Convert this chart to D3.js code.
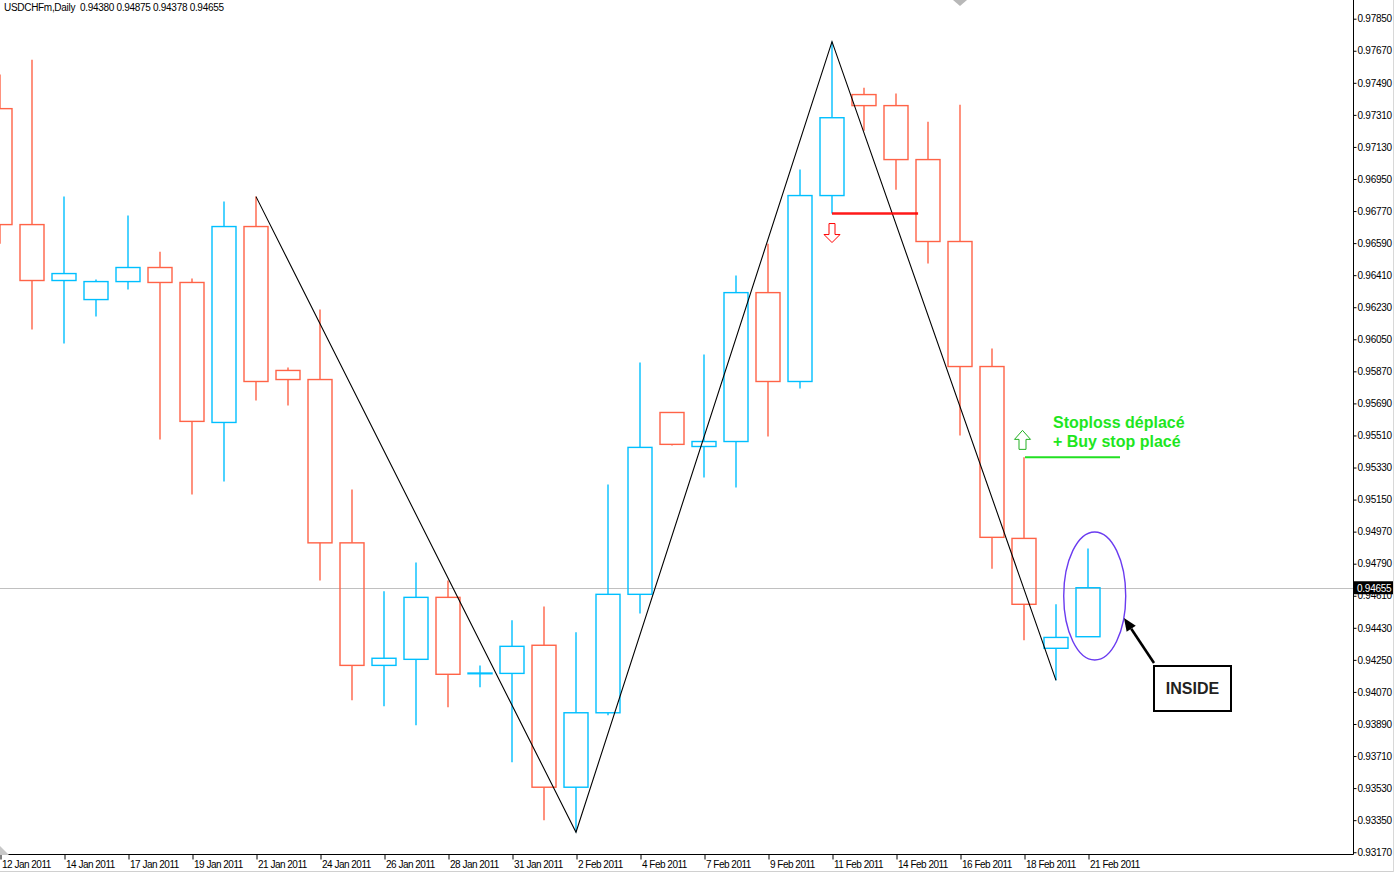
<!DOCTYPE html>
<html><head><meta charset="utf-8">
<script src="https://cdn.jsdelivr.net/npm/d3@7"></script>
<style>body{margin:0;background:#fff;} svg{display:block;}</style>
</head><body><svg id="c" width="1394" height="874"></svg>
<script>
// ---- data ----
const symbolTitle = "USDCHFm,Daily";
const dates = ["12 Jan","13 Jan","14 Jan","16 Jan","17 Jan","18 Jan","19 Jan","20 Jan","21 Jan","23 Jan","24 Jan","25 Jan","26 Jan","27 Jan","28 Jan","30 Jan","31 Jan","1 Feb","2 Feb","3 Feb","4 Feb","6 Feb","7 Feb","8 Feb","9 Feb","10 Feb","11 Feb","13 Feb","14 Feb","15 Feb","16 Feb","17 Feb","18 Feb","20 Feb","21 Feb"];
const openP  = [0.97345,0.96694,0.96380,0.96273,0.96374,0.96453,0.96369,0.95583,0.96683,0.95875,0.95824,0.94907,0.94219,0.94253,0.94601,0.94172,0.94174,0.94332,0.93535,0.93953,0.94618,0.95639,0.95448,0.95476,0.96312,0.95813,0.96857,0.97424,0.97362,0.97059,0.96599,0.95897,0.94932,0.94315,0.94380];
const highP  = [0.97536,0.97620,0.96851,0.96385,0.96745,0.96542,0.96391,0.96823,0.96851,0.95892,0.96217,0.95207,0.94635,0.94797,0.94696,0.94219,0.94472,0.94550,0.94405,0.95235,0.95920,0.95639,0.95965,0.96408,0.96587,0.97003,0.97721,0.97463,0.97430,0.97272,0.97367,0.95998,0.95387,0.94562,0.94875];
const lowP   = [0.96587,0.96105,0.96026,0.96178,0.96329,0.95488,0.95179,0.95252,0.95706,0.95678,0.94696,0.94023,0.93989,0.93883,0.93984,0.94096,0.93675,0.93350,0.93282,0.93939,0.94511,0.95454,0.95274,0.95218,0.95504,0.95774,0.96756,0.97221,0.96890,0.96475,0.95510,0.94761,0.94360,0.94135,0.94378];
const closeP = [0.96694,0.96380,0.96419,0.96374,0.96453,0.96369,0.95589,0.96683,0.95813,0.95824,0.94907,0.94219,0.94259,0.94601,0.94169,0.94176,0.94326,0.93535,0.93953,0.94618,0.95443,0.95460,0.95476,0.96312,0.95813,0.96857,0.97294,0.97362,0.97059,0.96599,0.95897,0.94938,0.94562,0.94376,0.94655];
const xTickDates  = ["12 Jan","14 Jan","17 Jan","19 Jan","21 Jan","24 Jan","26 Jan","28 Jan","31 Jan","2 Feb","4 Feb","7 Feb","9 Feb","11 Feb","14 Feb","16 Feb","18 Feb","21 Feb"];
const xTickLabels = ["12 Jan 2011","14 Jan 2011","17 Jan 2011","19 Jan 2011","21 Jan 2011","24 Jan 2011","26 Jan 2011","28 Jan 2011","31 Jan 2011","2 Feb 2011","4 Feb 2011","7 Feb 2011","9 Feb 2011","11 Feb 2011","14 Feb 2011","16 Feb 2011","18 Feb 2011","21 Feb 2011"];
const yTickValues = [0.97850,0.97670,0.97490,0.97310,0.97130,0.96950,0.96770,0.96590,0.96410,0.96230,0.96050,0.95870,0.95690,0.95510,0.95330,0.95150,0.94970,0.94790,0.94610,0.94430,0.94250,0.94070,0.93890,0.93710,0.93530,0.93350,0.93170];
const lastPrice = 0.94655;
// zigzag pivots: [date, price]
const zigzagDates  = ["21 Jan","2 Feb","11 Feb","20 Feb"];
const zigzagPrices = [0.96851,0.93282,0.97721,0.94135];
const stopLevel = 0.96756;     // red line (11 Feb low)
const buyStopLevel = 0.95387;  // green line (18 Feb high)
const noteLines = ["Stoploss déplacé","+ Buy stop placé"];
const boxLabel = "INSIDE";

// ---- layout ----
const W = 1394, H = 874;
const plotRight = 1353, plotBottom = 854;
const svg = d3.select("#c");
const x = d3.scalePoint().domain(dates).range([0, 1088]);
const step = x.step();
const xi = i => x(dates[0]) + i * step;               // fractional index position
const idx = d => dates.indexOf(d);
const y = d3.scaleLinear().domain([0.93160, 0.97955]).range([plotBottom, 0]);

const RED = "#FF6347", BLUE = "#00BFFF";

// current price line
svg.append("line").attr("x1", 0).attr("x2", plotRight).attr("y1", Math.round(y(lastPrice))+0.5).attr("y2", Math.round(y(lastPrice))+0.5)
  .attr("stroke", "#C0C0C0").attr("stroke-width", 1);

// candles
const candles = dates.map((d,i)=>({d, o:openP[i], h:highP[i], l:lowP[i], c:closeP[i]}));
const cg = svg.append("g").attr("fill","none").attr("stroke-width",1.4);
candles.forEach(k=>{
  const cx = x(k.d);
  const col = k.c >= k.o ? BLUE : RED;
  const top = y(Math.max(k.o,k.c)), bot = y(Math.min(k.o,k.c));
  cg.append("line").attr("x1",cx).attr("x2",cx).attr("y1",y(k.h)).attr("y2",top).attr("stroke",col);
  cg.append("line").attr("x1",cx).attr("x2",cx).attr("y1",bot).attr("y2",y(k.l)).attr("stroke",col);
  cg.append("rect").attr("x",cx-12).attr("width",24).attr("y",top).attr("height",Math.max(0.01,bot-top)).attr("stroke",col);
});

// zigzag
svg.append("path")
  .attr("d", d3.line().x(d=>x(d[0])).y(d=>y(d[1]))(zigzagDates.map((d,i)=>[d, zigzagPrices[i]])))
  .attr("fill","none").attr("stroke","#000").attr("stroke-width",1.1);

// red stop line
svg.append("line").attr("x1", xi(idx("11 Feb"))).attr("x2", xi(idx("11 Feb")+2.69))
  .attr("y1", y(stopLevel)).attr("y2", y(stopLevel)).attr("stroke","#FF0000").attr("stroke-width",2.4).attr("stroke-opacity",0.9);

// red down arrow
{
  const ax = x("11 Feb"), ay = y(stopLevel) + 10;
  const pts = [[-3,0],[3,0],[3,11],[8,11],[0,19],[-8,11],[-3,11]];
  svg.append("polygon").attr("points", pts.map(p=>[ax+p[0], ay+p[1]].join(",")).join(" "))
    .attr("fill","#fff").attr("stroke","#FF0000").attr("stroke-width",1);
}

// green line
const GREEN_TXT = "#1EE61E";
svg.append("line").attr("x1", x("18 Feb")+1).attr("x2", xi(idx("18 Feb")+3))
  .attr("y1", y(buyStopLevel)).attr("y2", y(buyStopLevel)).attr("stroke","#22E022").attr("stroke-width",2);

// green up arrow
{
  const ax = x("18 Feb") - 1.5, ay = y(buyStopLevel) - 27;
  const pts = [[0,0],[8,9],[3.5,9],[3.5,19],[-3.5,19],[-3.5,9],[-8,9]];
  svg.append("polygon").attr("points", pts.map(p=>[ax+p[0], ay+p[1]].join(",")).join(" "))
    .attr("fill","#fff").attr("stroke","#22B022").attr("stroke-width",1);
}

// green note text
svg.append("g").selectAll("text").data(noteLines).join("text")
  .attr("x", 1053).attr("y",(d,i)=> y(buyStopLevel) - 29 + i*19)
  .attr("font-family","Liberation Sans, Arial, sans-serif").attr("font-weight","bold").attr("font-size",16)
  .attr("fill", GREEN_TXT).text(d=>d);

// ellipse around inside bar
svg.append("ellipse").attr("cx", xi(idx("21 Feb")+0.21)).attr("cy", y(0.94609)).attr("rx",31).attr("ry",64)
  .attr("fill","none").attr("stroke","#6A3BF0").attr("stroke-width",1.4);

// black arrow to ellipse
{
  const tx = 1124, ty = 618, fx = 1154, fy = 663;
  const ang = Math.atan2(ty-fy, tx-fx);
  const L = 13, Wd = 5.5;
  const bx = tx - L*Math.cos(ang), by = ty - L*Math.sin(ang);
  svg.append("line").attr("x1",fx).attr("y1",fy).attr("x2",bx).attr("y2",by).attr("stroke","#000").attr("stroke-width",2.6);
  const p1 = [bx + Wd*Math.sin(ang), by - Wd*Math.cos(ang)];
  const p2 = [bx - Wd*Math.sin(ang), by + Wd*Math.cos(ang)];
  svg.append("polygon").attr("points",[[tx,ty],p1,p2].map(p=>p.join(",")).join(" ")).attr("fill","#000");
}

// INSIDE box
svg.append("rect").attr("x",1154).attr("y",666).attr("width",77).attr("height",45)
  .attr("fill","#fff").attr("stroke","#000").attr("stroke-width",2);
svg.append("text").attr("x",1192.5).attr("y",694).attr("text-anchor","middle")
  .attr("font-family","Liberation Sans, Arial, sans-serif").attr("font-weight","bold").attr("font-size",16)
  .attr("fill","#222").text(boxLabel);

// ---- axes ----
const axFont = "Liberation Sans, Tahoma, sans-serif";
const yAxis = d3.axisRight(y).tickValues(yTickValues).tickFormat(d3.format(".5f")).tickSize(3).tickPadding(1);
const yg = svg.append("g").attr("transform",`translate(${plotRight+0.5},0)`).call(yAxis);
yg.select(".domain").remove();
yg.selectAll(".tick line").attr("stroke","#000");
yg.selectAll(".tick text").attr("font-family",axFont).attr("font-size",10).attr("fill","#000").attr("letter-spacing",-0.25);
svg.append("line").attr("x1",plotRight+0.5).attr("x2",plotRight+0.5).attr("y1",0).attr("y2",plotBottom+0.5).attr("stroke","#000");

const xAxis = d3.axisBottom(x).tickValues(xTickDates).tickFormat(d=>xTickLabels[xTickDates.indexOf(d)]).tickSize(5).tickPadding(1);
const xg = svg.append("g").attr("transform",`translate(0.5,${plotBottom+0.5})`).call(xAxis);
xg.select(".domain").remove();
xg.selectAll(".tick line").attr("stroke","#000");
xg.selectAll(".tick text").attr("font-family",axFont).attr("font-size",10).attr("fill","#000")
  .attr("text-anchor","start").attr("dx",1).attr("letter-spacing",-0.5);
svg.append("line").attr("x1",0).attr("x2",plotRight+0.5).attr("y1",plotBottom+0.5).attr("y2",plotBottom+0.5).attr("stroke","#000");

// last price label (drawn over the 0.94610 tick, as in the terminal)
{
  const py = y(lastPrice);
  svg.append("rect").attr("x",plotRight+1).attr("y",py-6.5).attr("width",40).attr("height",13).attr("fill","#000");
  svg.append("text").attr("x",plotRight+4).attr("y",py+4).attr("font-family",axFont).attr("font-size",10)
    .attr("letter-spacing",-0.25).attr("fill","#fff").text(d3.format(".5f")(lastPrice));
}

// header
svg.append("text").attr("x",4).attr("y",11).attr("font-family",axFont).attr("font-size",10).attr("letter-spacing",-0.3)
  .attr("fill","#000").attr("xml:space","preserve").style("white-space","pre")
  .text(`${symbolTitle}  ${openP[34].toFixed(5)} ${highP[34].toFixed(5)} ${lowP[34].toFixed(5)} ${closeP[34].toFixed(5)}`);

// window decorations
svg.append("polygon").attr("points","953,0 967,0 960,6").attr("fill","#B8B8B8");
svg.append("polygon").attr("points","0,846 9,855 0,855").attr("fill","#C8C8C8");
svg.append("line").attr("x1",0).attr("x2",W).attr("y1",871.5).attr("y2",871.5).attr("stroke","#D0D0D0");
svg.append("line").attr("x1",1393.5).attr("x2",1393.5).attr("y1",0).attr("y2",872).attr("stroke","#D8D8D8");
</script></body></html>
